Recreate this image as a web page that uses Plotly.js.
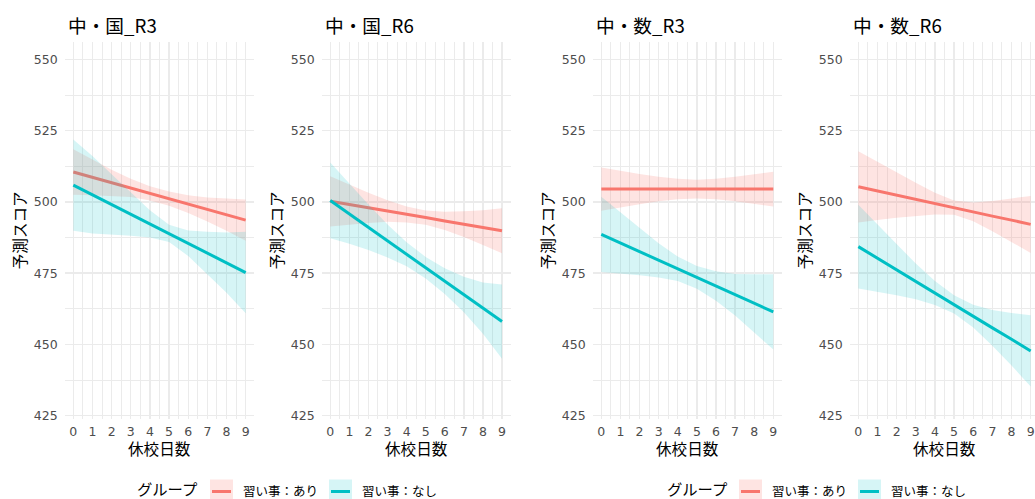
<!DOCTYPE html>
<html>
<head>
<meta charset="utf-8">
<script src="https://cdn.plot.ly/plotly-3.0.1.min.js"></script>
<style>html,body{margin:0;padding:0;background:#fff;}#chart{width:1035px;height:499px;}</style>
</head>
<body>
<div id="chart"></div>
<script>
// ---------- data ----------
const days = [0, 1, 2, 3, 4, 5, 6, 7, 8, 9];
const xTickLabels = ["0", "1", "2", "3", "4", "5", "6", "7", "8", "9"];
const yTickVals = [425, 450, 475, 500, 525, 550];
const panelTitles = ["中・国_R3", "中・国_R6", "中・数_R3", "中・数_R6"];
const groupNames = ["習い事：あり", "習い事：なし"];

// 中・国_R3
const kokuR3_ari_fit = [510.5, 508.6, 506.7, 504.9, 503.0, 501.1, 499.2, 497.3, 495.5, 493.6];
const kokuR3_ari_lo  = [502.5, 502.3, 502.1, 501.7, 500.5, 498.6, 496.1, 493.1, 489.9, 486.4];
const kokuR3_ari_hi  = [518.5, 514.9, 511.3, 508.1, 505.5, 503.6, 502.3, 501.5, 501.1, 500.8];
const kokuR3_nashi_fit = [505.9, 502.5, 499.1, 495.7, 492.3, 488.9, 485.4, 482.0, 478.6, 475.2];
const kokuR3_nashi_lo  = [489.9, 488.9, 488.5, 488.1, 487.5, 485.9, 481.0, 474.5, 468.1, 460.9];
const kokuR3_nashi_hi  = [521.9, 516.1, 509.7, 503.3, 497.1, 492.0, 490.0, 489.5, 489.3, 489.5];

// 中・国_R6
const kokuR6_ari_fit = [500.2, 499.1, 497.9, 496.8, 495.6, 494.5, 493.3, 492.2, 491.0, 489.9];
const kokuR6_ari_lo  = [491.4, 492.1, 492.6, 493.0, 492.8, 492.0, 490.1, 487.7, 484.9, 482.0];
const kokuR6_ari_hi  = [509.0, 506.1, 503.2, 500.6, 498.4, 497.0, 496.5, 496.7, 497.1, 497.8];
const kokuR6_nashi_fit = [500.5, 495.8, 491.1, 486.3, 481.6, 476.9, 472.2, 467.5, 462.7, 458.0];
const kokuR6_nashi_lo  = [487.2, 485.3, 483.1, 480.5, 477.4, 473.1, 467.7, 461.3, 453.7, 445.0];
const kokuR6_nashi_hi  = [513.8, 506.3, 499.1, 492.1, 485.8, 480.7, 476.7, 473.7, 471.7, 471.0];

// 中・数_R3
const suuR3_ari_fit = [504.5, 504.5, 504.5, 504.5, 504.5, 504.5, 504.5, 504.5, 504.5, 504.5];
const suuR3_ari_lo  = [496.9, 498.1, 499.2, 500.2, 500.9, 501.2, 500.9, 500.2, 499.4, 498.4];
const suuR3_ari_hi  = [512.1, 510.9, 509.8, 508.8, 508.1, 507.8, 508.1, 508.8, 509.6, 510.6];
const suuR3_nashi_fit = [488.6, 485.6, 482.6, 479.5, 476.5, 473.5, 470.5, 467.4, 464.4, 461.4];
const suuR3_nashi_lo  = [475.4, 474.8, 474.3, 473.5, 472.2, 469.5, 465.3, 460.1, 454.2, 448.2];
const suuR3_nashi_hi  = [501.8, 496.4, 490.9, 485.5, 480.8, 477.5, 475.7, 474.7, 474.6, 474.6];

// 中・数_R6
const suuR6_ari_fit = [505.3, 503.8, 502.4, 500.9, 499.4, 498.0, 496.5, 495.0, 493.6, 492.1];
const suuR6_ari_lo  = [492.8, 493.6, 494.4, 495.1, 495.6, 495.5, 493.2, 489.7, 486.0, 482.1];
const suuR6_ari_hi  = [517.8, 514.0, 510.4, 506.7, 503.2, 500.5, 499.8, 500.3, 501.2, 502.1];
const suuR6_nashi_fit = [484.3, 480.2, 476.2, 472.1, 468.0, 464.0, 459.9, 455.8, 451.8, 447.7];
const suuR6_nashi_lo  = [469.6, 468.4, 467.2, 465.8, 463.8, 460.8, 455.9, 449.5, 442.6, 435.2];
const suuR6_nashi_hi  = [499.0, 492.0, 485.2, 478.4, 472.2, 467.2, 463.9, 462.1, 461.0, 460.2];

// ---------- styling ----------
const W = 1035, H = 499;
const RED = "#F8766D", CYAN = "#00BFC4";
const RED_FILL = "rgba(248,118,109,0.2)", CYAN_FILL = "rgba(0,191,196,0.16)";
const LATIN = "DejaVu Sans, Noto Sans CJK JP, sans-serif";
const JP = "Noto Sans CJK JP, DejaVu Sans, sans-serif";
const GRID = "#EBEBEB";

const panels = [
  {ari: [kokuR3_ari_fit, kokuR3_ari_lo, kokuR3_ari_hi], nashi: [kokuR3_nashi_fit, kokuR3_nashi_lo, kokuR3_nashi_hi], left: 64.7, right: 254.3},
  {ari: [kokuR6_ari_fit, kokuR6_ari_lo, kokuR6_ari_hi], nashi: [kokuR6_nashi_fit, kokuR6_nashi_lo, kokuR6_nashi_hi], left: 321.7, right: 510.6},
  {ari: [suuR3_ari_fit, suuR3_ari_lo, suuR3_ari_hi], nashi: [suuR3_nashi_fit, suuR3_nashi_lo, suuR3_nashi_hi], left: 592.7, right: 781.9},
  {ari: [suuR6_ari_fit, suuR6_ari_lo, suuR6_ari_hi], nashi: [suuR6_nashi_fit, suuR6_nashi_lo, suuR6_nashi_hi], left: 849.7, right: 1039.3}
];
const panelTop = 41.7, panelBottom = 418.5;
const yRange = [424, 556.2];

const px = v => v / W;
const py = v => 1 - v / H;

const traces = [];
const layout = {
  width: W, height: H,
  margin: {l: 0, r: 0, t: 0, b: 0},
  paper_bgcolor: "#fff", plot_bgcolor: "#fff",
  showlegend: false,
  annotations: [], shapes: []
};

function band(x, lo, hi, fill, ax) {
  return {
    x: x.concat(x.slice().reverse()),
    y: hi.concat(lo.slice().reverse()),
    type: "scatter", mode: "lines", fill: "toself", fillcolor: fill,
    line: {width: 0, color: "rgba(0,0,0,0)"}, hoverinfo: "skip",
    xaxis: "x" + ax, yaxis: "y" + ax
  };
}
function fitLine(x, y, color, ax) {
  return {x: x, y: y, type: "scatter", mode: "lines", line: {color: color, width: 3},
    xaxis: "x" + ax, yaxis: "y" + ax};
}

panels.forEach((p, i) => {
  const ax = i === 0 ? "" : String(i + 1);
  traces.push(band(days, p.ari[1], p.ari[2], RED_FILL, ax));
  traces.push(fitLine(days, p.ari[0], RED, ax));
  traces.push(band(days, p.nashi[1], p.nashi[2], CYAN_FILL, ax));
  traces.push(fitLine(days, p.nashi[0], CYAN, ax));

  const unit = (p.right - p.left) / 9.9;
  const rightEdge = Math.min(p.right, W);
  const xr = [-0.45, -0.45 + (rightEdge - p.left) / unit];

  layout["xaxis" + ax] = {
    domain: [px(p.left), px(rightEdge)], range: xr, anchor: "y" + ax,
    tickvals: days, ticktext: xTickLabels, ticks: "", showline: false, zeroline: false,
    showgrid: true, gridcolor: GRID, gridwidth: 1.3,
    minor: {tick0: 0, dtick: 0.5, showgrid: true, gridcolor: GRID, gridwidth: 1.0},
    tickfont: {family: LATIN, size: 12.5, color: "#4D4D4D"},
    ticklabelstandoff: 4,
    fixedrange: true
  };
  layout["yaxis" + ax] = {
    domain: [py(panelBottom), py(panelTop)], range: yRange, anchor: "x" + ax,
    tickvals: yTickVals, ticks: "", showline: false, zeroline: false,
    showgrid: true, gridcolor: GRID, gridwidth: 1.3,
    minor: {tick0: 425, dtick: 12.5, showgrid: true, gridcolor: GRID, gridwidth: 1.0},
    tickfont: {family: LATIN, size: 12.5, color: "#4D4D4D"},
    ticklabelstandoff: 6,
    fixedrange: true
  };

  layout.annotations.push({
    text: panelTitles[i], xref: "paper", yref: "paper",
    x: px(p.left + 1), y: py(24), xanchor: "left", yanchor: "middle",
    showarrow: false, font: {family: JP, size: 18.7, color: "#000"}
  });
  layout.annotations.push({
    text: "休校日数", xref: "paper", yref: "paper",
    x: px((p.left + p.right) / 2), y: py(448),
    xanchor: "center", yanchor: "middle",
    showarrow: false, font: {family: JP, size: 15.6, color: "#000"}
  });
  layout.annotations.push({
    text: "予測スコア", xref: "paper", yref: "paper",
    x: px(p.left - 45.5), y: py((panelTop + panelBottom) / 2),
    xanchor: "center", yanchor: "middle", textangle: -90,
    showarrow: false, font: {family: JP, size: 15.6, color: "#000"}
  });
});

// ---------- legends (one per figure half) ----------
const legends = [
  {title: 137, keys: [210, 329], labels: [243, 362]},
  {title: 667, keys: [739, 858], labels: [772, 891]}
];
const keyFills = [RED_FILL, CYAN_FILL], keyLines = [RED, CYAN];
legends.forEach(lg => {
  layout.annotations.push({
    text: "グループ", xref: "paper", yref: "paper", x: px(lg.title - 1), y: py(487.5),
    xanchor: "left", yanchor: "middle", showarrow: false, borderpad: 0,
    font: {family: JP, size: 15.3, color: "#000"}
  });
  for (let k = 0; k < 2; k++) {
    const kx = lg.keys[k];
    layout.shapes.push({type: "rect", xref: "paper", yref: "paper",
      x0: px(kx), x1: px(kx + 23), y0: py(502), y1: py(479.5),
      fillcolor: keyFills[k], line: {width: 0}});
    layout.shapes.push({type: "line", xref: "paper", yref: "paper",
      x0: px(kx + 2), x1: px(kx + 21), y0: py(491.5), y1: py(491.5),
      line: {color: keyLines[k], width: 3}});
    layout.annotations.push({
      text: groupNames[k], xref: "paper", yref: "paper", x: px(lg.labels[k] - 1), y: py(490.5),
      xanchor: "left", yanchor: "middle", showarrow: false, borderpad: 0,
      font: {family: JP, size: 12.5, color: "#000"}
    });
  }
});

Plotly.newPlot("chart", traces, layout, {staticPlot: true, displayModeBar: false});
</script>
</body>
</html>
